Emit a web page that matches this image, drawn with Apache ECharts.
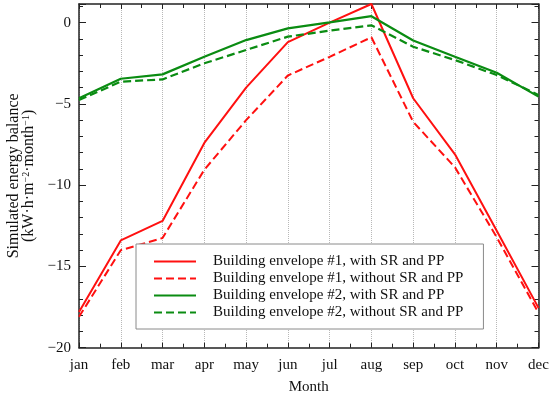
<!DOCTYPE html>
<html><head><meta charset="utf-8">
<script src="https://cdn.jsdelivr.net/npm/echarts@6/dist/echarts.min.js"></script>
<style>html,body{margin:0;padding:0;background:#fff}#c{width:550px;height:396px}</style>
</head><body><div id="c"></div>
<script>
var months = ['jan','feb','mar','apr','may','jun','jul','aug','sep','oct','nov','dec'];
var env1With    = [-17.8,-13.4,-12.2,-7.4,-4.0,-1.2,0.0,1.15,-4.65,-8.1,-12.8,-17.55];
var env1Without = [-18.1,-14.0,-13.25,-9.05,-6.0,-3.25,-2.1,-0.9,-6.1,-8.9,-13.2,-17.85];
var env2With    = [-4.65,-3.45,-3.18,-2.1,-1.07,-0.35,0.02,0.4,-1.1,-2.09,-3.08,-4.55];
var env2Without = [-4.76,-3.63,-3.49,-2.5,-1.68,-0.86,-0.49,-0.16,-1.48,-2.3,-3.22,-4.45];
var names = ['Building envelope #1, with SR and PP','Building envelope #1, without SR and PP',
             'Building envelope #2, with SR and PP','Building envelope #2, without SR and PP'];
var yMin = -20, yMax = 1.15;

function pairs(arr){ return arr.map(function(v,i){ return [i,v]; }); }
var RED = '#ff1010', GREEN = '#0a8c12';
var font = '"Liberation Serif","DejaVu Serif",serif';

var chart = echarts.init(document.getElementById('c'));
var axisLineStyle = {color:'#222', width:1.5};
chart.setOption({
  animation:false,
  backgroundColor:'#fff',
  textStyle:{fontFamily:font},
  grid:{left:79, right:11.5, top:4, bottom:48.3, containLabel:false, outerBoundsMode:'none'},
  xAxis:[{
    type:'value', min:0, max:11, interval:1,
    axisLine:{show:true, onZero:false, lineStyle:axisLineStyle},
    axisTick:{show:true, inside:true, length:5, lineStyle:{color:'#222'}},
    minorTick:{show:true, splitNumber:2, length:4, lineStyle:{color:'#222'}},
    axisLabel:{formatter:function(v){return months[v];}, fontSize:15, color:'#111', fontFamily:font, margin:10},
    splitLine:{show:true, lineStyle:{color:'#b8b8b8', type:'dotted', width:1}},
    name:'Month', nameLocation:'middle', nameGap:32,
    nameTextStyle:{fontSize:15, color:'#111', fontFamily:font}
  },{
    type:'value', min:0, max:11, interval:1, position:'top',
    axisLine:{show:true, onZero:false, lineStyle:axisLineStyle},
    axisTick:{show:true, inside:true, length:5, lineStyle:{color:'#222'}},
    minorTick:{show:true, splitNumber:2, length:4, lineStyle:{color:'#222'}},
    axisLabel:{show:false}, splitLine:{show:false}
  }],
  yAxis:[{
    type:'value', min:yMin, max:yMax, interval:5,
    axisLine:{show:true, onZero:false, lineStyle:axisLineStyle},
    axisTick:{show:true, inside:true, length:7, lineStyle:{color:'#222'}},
    minorTick:{show:true, splitNumber:5, length:4, lineStyle:{color:'#222'}},
    axisLabel:{fontSize:15, color:'#111', fontFamily:font, margin:8, showMaxLabel:false,
      formatter:function(v){ return v<0 ? '\u2212'+Math.abs(v) : String(v); }},
    splitLine:{show:false},
    name:'{t|Simulated energy balance}\n{t|(kW\u00b7h\u00b7m}{s|\u22122}{t|\u00b7month}{s|\u22121}{t|)}',
    nameLocation:'middle', nameGap:43, nameRotate:90,
    nameTextStyle:{fontSize:16, color:'#111', fontFamily:font, lineHeight:15,
      rich:{
        t:{fontSize:16, color:'#111', fontFamily:font, lineHeight:15},
        s:{fontSize:10, color:'#111', fontFamily:font, lineHeight:15, verticalAlign:'top', padding:[0,0,4,0]}
      }}
  },{
    type:'value', min:yMin, max:yMax, interval:5, position:'right',
    axisLine:{show:true, onZero:false, lineStyle:axisLineStyle},
    axisTick:{show:true, inside:true, length:7, lineStyle:{color:'#222'}},
    minorTick:{show:true, splitNumber:5, length:4, lineStyle:{color:'#222'}},
    axisLabel:{show:false}, splitLine:{show:false}
  }],
  legend:{
    orient:'vertical', left:136, top:244,
    backgroundColor:'#fff', borderColor:'#8a8a8a', borderWidth:1,
    padding:[9,20,8,17],
    itemWidth:42, itemHeight:14, itemGap:0,
    itemStyle:{opacity:0},
    textStyle:{fontSize:15, color:'#111', fontFamily:font, padding:[0,0,0,12], lineHeight:17},
    data:names
  },
  series:[
    {name:names[0], type:'line', data:pairs(env1With), symbol:'none', lineStyle:{color:RED, width:2}, itemStyle:{color:RED}},
    {name:names[1], type:'line', data:pairs(env1Without), symbol:'none', lineStyle:{color:RED, width:2, type:[8,4]}, itemStyle:{color:RED}},
    {name:names[2], type:'line', data:pairs(env2With), symbol:'none', lineStyle:{color:GREEN, width:2.2}, itemStyle:{color:GREEN}},
    {name:names[3], type:'line', data:pairs(env2Without), symbol:'none', lineStyle:{color:GREEN, width:2.2, type:[8,4]}, itemStyle:{color:GREEN}}
  ]
});
</script></body></html>
